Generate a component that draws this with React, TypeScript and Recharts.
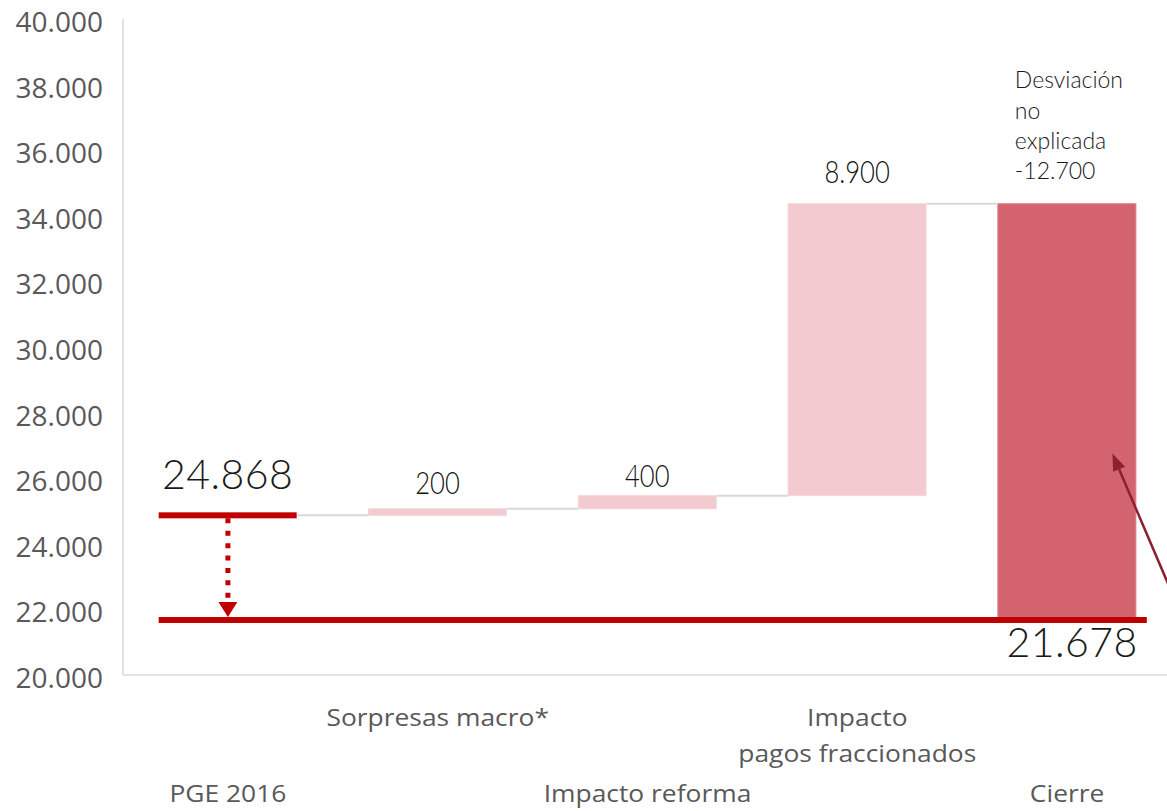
import React from 'react';
import { ComposedChart, Bar, XAxis, YAxis, ReferenceLine } from 'recharts';

// ---- data ----
const categories = ['PGE 2016', 'Sorpresas macro*', 'Impacto reforma', 'Impacto pagos fraccionados', 'Cierre'];
const categoryLines = [['PGE 2016'], ['Sorpresas macro*'], ['Impacto reforma'], ['Impacto', 'pagos fraccionados'], ['Cierre']];
const startValue = 24868;
const impacts = [200, 400, 8900];
const closeValue = 21678;
const deviationValue = -12700;
const deviationWords = ['Desviación', 'no', 'explicada'];
const yTicks = [20000, 22000, 24000, 26000, 28000, 30000, 32000, 34000, 36000, 38000, 40000];
const Y_MIN = 20000;
const Y_MAX = 40000;
// pointer arrow: position in category units (band i spans [i, i+1]) and value
const pointerFrom = { p: 5, y: 22500 };
const pointerTo = { p: 4.716, y: 26750 };

// ---- styles ----
const RED = '#C00000';
const PINK = '#F2CAD0';
const CLOSE = '#D46370';
const GRID = '#D9D9D9';
const AXIS_TEXT = '#595959';
const LABEL = '#1a1a1a';
const MAROON = '#8C1F30';
const BAR_FRAC = 0.66;
const HALF = BAR_FRAC / 2;

const fmt = (v: number) => {
  const s = Math.abs(v).toString().replace(/\B(?=(\d{3})+(?!\d))/g, '.');
  return (v < 0 ? '-' : '') + s;
};

type Row = { name: string; range: [number, number]; kind: string; label: string };
const rows: Row[] = [];
let running = startValue;
rows.push({ name: categories[0], range: [Y_MIN, startValue], kind: 'total', label: fmt(startValue) });
impacts.forEach((d, i) => {
  rows.push({ name: categories[i + 1], range: [running, running + d], kind: 'delta', label: fmt(d) });
  running += d;
});
rows.push({ name: categories[4], range: [closeValue, running], kind: 'close', label: fmt(deviationValue) });

const levels = rows.map((r) => r.range[1]);
const N = categories.length;

const LABEL_GAP = [26, 15, 9, 21];
const BIG_FONT = { fontFamily: 'Lato, sans-serif', fontWeight: 300, fontSize: 41 };

const BarShape = (props: any) => {
  const { x, y, width, height, payload } = props;
  const idx = categories.indexOf(payload.name);
  const cx = x + width / 2;
  if (payload.kind === 'total') {
    return (
      <g>
        <rect x={x} y={y - 3} width={width} height={6} fill={RED} />
        <text x={cx} y={y - LABEL_GAP[idx]} textAnchor="middle" {...BIG_FONT} letterSpacing={0.5} fill={LABEL}>
          {payload.label}
        </text>
      </g>
    );
  }
  if (payload.kind === 'delta') {
    return (
      <g>
        <rect x={x} y={y} width={width} height={height} fill={PINK} stroke="#F5D6DA" strokeWidth={1} />
        <text
          transform={`translate(${cx},${y - LABEL_GAP[idx]}) scale(0.8,1)`}
          x={0}
          y={0}
          textAnchor="middle"
          fontFamily="Lato, sans-serif"
          fontWeight={300}
          fontSize={32}
          fill="#111"
        >
          {payload.label}
        </text>
      </g>
    );
  }
  const lines = [...deviationWords, payload.label];
  const base = [-116, -85, -55, -25];
  return (
    <g>
      <rect x={x} y={y} width={width} height={height} fill={CLOSE} stroke="#DC7E89" strokeWidth={1} />
      {lines.map((t, i) => (
        <text key={i} x={x + 17} y={y + base[i]} textAnchor="start" fontFamily="Lato, sans-serif" fontWeight={300} fontSize={23} fill={LABEL}>
          {t}
        </text>
      ))}
      <text x={x + width + 2} y={y + height + 37} textAnchor="end" {...BIG_FONT} letterSpacing={0.5} fill={LABEL}>
        {fmt(closeValue)}
      </text>
    </g>
  );
};

const YTick = (props: any) => {
  const { x, y, payload } = props;
  return (
    <text x={x} y={y + 13} textAnchor="end" fontFamily="'Open Sans', sans-serif" fontSize={28} fill={AXIS_TEXT}>
      {fmt(payload.value)}
    </text>
  );
};

const XTick = (props: any) => {
  const { x, y, payload, index } = props;
  const i = categories.indexOf(payload.value);
  const k0 = i >= 0 ? i : index;
  const lines = categoryLines[k0] || [payload.value];
  const upper = k0 % 2 === 1;
  const startY = y + (upper ? 51 : 127);
  return (
    <g>
      {lines.map((t: string, k: number) => (
        <text
          key={k}
          transform={`translate(${x},${startY + k * 36}) scale(1.1,1)`}
          x={0}
          y={0}
          textAnchor="middle"
          fontFamily="'Open Sans', sans-serif"
          fontSize={24}
          fill={AXIS_TEXT}
        >
          {t}
        </text>
      ))}
    </g>
  );
};

// connector between two adjacent category centres
const Connector = (p: any) => {
  const { x1, y1, x2 } = p;
  const band = x2 - x1;
  return <line x1={x1 + HALF * band} y1={y1} x2={x2 - HALF * band} y2={y1} stroke={GRID} strokeWidth={2} />;
};

// long base line from first bar's left edge to past last bar's right edge
const BaseLine = (p: any) => {
  const { x1, y1, x2 } = p;
  const band = (x2 - x1) / (N - 1);
  return <line x1={x1 - HALF * band} y1={y1} x2={x2 + (HALF + 0.05) * band} y2={y1} stroke={RED} strokeWidth={6} />;
};

const DottedArrow = (props: any) => {
  const { x1, y1, x2, y2 } = props;
  return (
    <g>
      <line x1={x1} y1={y1 + 3} x2={x2} y2={y2 - 18} stroke={RED} strokeWidth={5} strokeDasharray="5 7.4" />
      <path d={`M${x2 - 9.5},${y2 - 18} L${x2 + 9.5},${y2 - 18} L${x2},${y2 - 3} Z`} fill={RED} />
    </g>
  );
};

// segment given between centres of categories N-2 and N-1
const PointerArrow = (props: any) => {
  const { x1, y1, x2, y2 } = props;
  const band = x2 - x1;
  const px = (pp: number) => x1 + (pp - (N - 2 + 0.5)) * band;
  const sx = px(pointerFrom.p);
  const tx = px(pointerTo.p);
  const sy = y1;
  const ty = y2;
  const dx = tx - sx;
  const dy = ty - sy;
  const len = Math.sqrt(dx * dx + dy * dy) || 1;
  const ux = dx / len;
  const uy = dy / len;
  const L = 17;
  const W = 6.5;
  const bx = tx - ux * L;
  const by = ty - uy * L;
  return (
    <g>
      <line x1={sx} y1={sy} x2={bx} y2={by} stroke={MAROON} strokeWidth={2.5} />
      <path d={`M${tx},${ty} L${bx - uy * W},${by + ux * W} L${bx + uy * W},${by - ux * W} Z`} fill={MAROON} />
    </g>
  );
};

export default function App() {
  return (
    <div style={{ position: 'absolute', left: 0, top: 0, width: 1167, height: 811, overflow: 'hidden', background: '#fff' }}>
      <ComposedChart
        width={1172}
        height={811}
        data={rows}
        margin={{ top: 19, right: 0, bottom: 0, left: 0 }}
        barCategoryGap={`${((1 - BAR_FRAC) / 2) * 100}%`}
      >
        <XAxis
          xAxisId="cat"
          dataKey="name"
          type="category"
          height={136}
          interval={0}
          tickSize={0}
          tickMargin={0}
          tickLine={false}
          axisLine={{ stroke: GRID, strokeWidth: 1.5 }}
          tick={<XTick />}
        />
        <YAxis
          width={123}
          type="number"
          domain={[Y_MIN, Y_MAX]}
          ticks={yTicks}
          interval={0}
          tickSize={0}
          tickMargin={20}
          tickLine={false}
          axisLine={{ stroke: GRID, strokeWidth: 1.5 }}
          tick={<YTick />}
          allowDataOverflow
        />
        <Bar xAxisId="cat" dataKey="range" shape={<BarShape />} isAnimationActive={false} />
        {levels.slice(0, N - 1).map((lv, i) => (
          <ReferenceLine
            key={`c${i}`}
            xAxisId="cat"
            position="middle"
            ifOverflow="visible"
            segment={[
              { x: categories[i], y: lv },
              { x: categories[i + 1], y: lv },
            ]}
            shape={(p: any) => <Connector {...p} />}
          />
        ))}
        <ReferenceLine
          xAxisId="cat"
          position="middle"
          ifOverflow="visible"
          segment={[
            { x: categories[0], y: closeValue },
            { x: categories[N - 1], y: closeValue },
          ]}
          shape={(p: any) => <BaseLine {...p} />}
        />
        <ReferenceLine
          xAxisId="cat"
          position="middle"
          ifOverflow="visible"
          segment={[
            { x: categories[0], y: startValue },
            { x: categories[0], y: closeValue },
          ]}
          shape={(p: any) => <DottedArrow {...p} />}
        />
        <ReferenceLine
          xAxisId="cat"
          position="middle"
          ifOverflow="visible"
          segment={[
            { x: categories[N - 2], y: pointerFrom.y },
            { x: categories[N - 1], y: pointerTo.y },
          ]}
          shape={(p: any) => <PointerArrow {...p} />}
        />
      </ComposedChart>
    </div>
  );
}
